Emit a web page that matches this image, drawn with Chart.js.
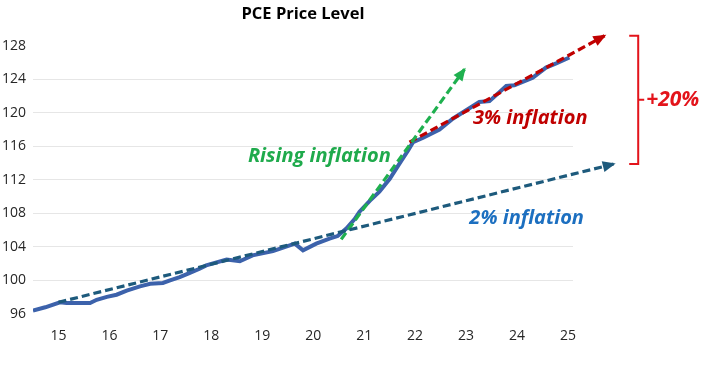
<!DOCTYPE html>
<html>
<head>
<meta charset="utf-8">
<script src="https://cdn.jsdelivr.net/npm/chart.js@4"></script>
<style>
  html, body { margin: 0; padding: 0; background: #fff; }
</style>
</head>
<body>
<canvas id="pceChart" width="714" height="366"></canvas>
<script>
// PCE price level (x in decimal years)
const pceYears = [2015.0, 2015.24, 2015.53, 2015.66, 2016.12, 2016.25, 2016.45, 2016.64, 2016.84,
  2017.1, 2017.3, 2017.55, 2017.69, 2017.88, 2018.08, 2018.27, 2018.4, 2018.8, 2019.06,
  2019.31, 2019.71, 2020.04, 2020.14, 2020.3, 2020.56, 2020.82, 2020.98, 2021.15, 2021.31,
  2021.41, 2021.61, 2021.8, 2022.0, 2022.2, 2022.36, 2022.46, 2022.65, 2022.98, 2023.24,
  2023.76, 2023.96, 2024.29, 2024.45, 2024.81, 2025.07, 2025.27, 2025.53];
const pceValues = [96.4, 96.8, 97.4, 97.3, 97.3, 97.7, 98.05, 98.3, 98.8,
  99.3, 99.6, 99.7, 100.0, 100.4, 100.9, 101.4, 101.8, 102.5, 102.3,
  103.0, 103.5, 104.2, 104.4, 103.6, 104.4, 105.0, 105.3, 106.2, 107.3,
  108.2, 109.5, 110.6, 112.1, 114.0, 115.5, 116.5, 117.0, 118.0, 119.3,
  121.3, 121.4, 123.2, 123.3, 124.2, 125.4, 125.9, 126.6];

// trend arrows
const trend2Years = [2015.5, 2026.4];
const trend2Values = [97.4, 113.9];
const trend3Years = [2022.39, 2026.22];
const trend3Values = [116.5, 129.2];
const risingYears = [2021.05, 2023.47];
const risingValues = [104.9, 125.2];

const tickYears = [2015.5, 2016.5, 2017.5, 2018.5, 2019.5, 2020.5, 2021.5, 2022.5, 2023.5, 2024.5, 2025.5];
const tickLabels = ["15", "16", "17", "18", "19", "20", "21", "22", "23", "24", "25"];

const FONT = "'Open Sans', 'Noto Sans', sans-serif";

function toPoints(xs, ys) {
  return xs.map((x, i) => ({ x: x, y: ys[i] }));
}

function trendSet(xs, ys, col) {
  return {
    data: toPoints(xs, ys),
    borderColor: col,
    backgroundColor: col,
    borderWidth: 3.2,
    borderDash: [8, 4],
    pointRadius: 0,
    clip: false,
    order: 1,
    arrow: true,
  };
}

// arrow heads at the end of the dashed trend lines
const arrowHeads = {
  id: "arrowHeads",
  afterDatasetsDraw(chart) {
    const ctx = chart.ctx;
    chart.data.datasets.forEach((ds, i) => {
      if (!ds.arrow) return;
      const pts = chart.getDatasetMeta(i).data;
      const a = pts[pts.length - 2];
      const b = pts[pts.length - 1];
      const ang = Math.atan2(b.y - a.y, b.x - a.x);
      const len = 11, half = 5.5;
      ctx.save();
      ctx.translate(b.x, b.y);
      ctx.rotate(ang);
      ctx.fillStyle = ds.borderColor;
      ctx.beginPath();
      ctx.moveTo(2, 0);
      ctx.lineTo(-len, -half);
      ctx.lineTo(-len, half);
      ctx.closePath();
      ctx.fill();
      ctx.restore();
    });
  },
};

// text notes and the +20% bracket
const notes = {
  id: "notes",
  afterDraw(chart) {
    const ctx = chart.ctx;
    const xs = chart.scales.x, ys = chart.scales.y;
    const px = (v) => xs.getPixelForValue(v);
    const py = (v) => ys.getPixelForValue(v);
    ctx.save();
    ctx.textBaseline = "middle";
    ctx.textAlign = "center";

    ctx.font = "italic bold 20px " + FONT;
    ctx.fillStyle = "#1faa4c";
    ctx.fillText("Rising inflation", px(2020.62), py(114.8));

    ctx.fillStyle = "#c00000";
    ctx.fillText("3% inflation", px(2024.76), py(119.4));

    ctx.fillStyle = "#1c6fc0";
    ctx.fillText("2% inflation", px(2024.69), py(107.4));

    // bracket between the two arrow tips
    const bx = px(2026.88);
    const top = py(trend3Values[1]);
    const bot = py(trend2Values[1]);
    const mid = (top + bot) / 2;
    ctx.strokeStyle = "#e3141b";
    ctx.lineWidth = 2;
    ctx.beginPath();
    ctx.moveTo(bx - 9, top);
    ctx.lineTo(bx, top);
    ctx.lineTo(bx, bot);
    ctx.lineTo(bx - 9, bot);
    ctx.moveTo(bx, mid);
    ctx.lineTo(bx + 6, mid);
    ctx.stroke();

    ctx.fillStyle = "#e3141b";
    ctx.textAlign = "left";
    ctx.font = "italic bold 21px " + FONT;
    ctx.fillText("+20%", bx + 8, mid);
    ctx.restore();
  },
};

new Chart(document.getElementById("pceChart"), {
  type: "line",
  data: {
    datasets: [
      trendSet(trend2Years, trend2Values, "#1d5a7c"),
      trendSet(risingYears, risingValues, "#1fb04f"),
      trendSet(trend3Years, trend3Values, "#c00000"),
      {
        data: toPoints(pceYears, pceValues),
        borderColor: "#3c62ab",
        borderWidth: 4,
        pointRadius: 0,
        tension: 0,
        order: 2,
      },
    ],
  },
  options: {
    responsive: false,
    animation: false,
    layout: { padding: { left: 0, right: 141, top: 0, bottom: 0 } },
    scales: {
      x: {
        type: "linear",
        min: 2015,
        max: 2025.6,
        afterBuildTicks: (s) => {
          s.ticks = tickYears.map((v) => ({ value: v }));
        },
        afterFit: (s) => {
          s.height = 52;
        },
        grid: { display: false, drawTicks: false },
        border: { display: false },
        ticks: {
          padding: 14,
          maxRotation: 0,
          autoSkip: false,
          color: "#262626",
          font: { family: FONT, size: 14 },
          callback: (v, i) => tickLabels[i],
        },
      },
      y: {
        min: 96,
        max: 128,
        afterFit: (s) => {
          s.width = 33;
        },
        grid: {
          drawTicks: false,
          color: (c) =>
            c.tick && (c.tick.value === 96 || c.tick.value === 128) ? "rgba(0,0,0,0)" : "#e6e6e6",
        },
        border: { display: false },
        ticks: {
          stepSize: 4,
          padding: 7,
          color: "#262626",
          font: { family: FONT, size: 14 },
        },
      },
    },
    plugins: {
      legend: { display: false },
      tooltip: { enabled: false },
      title: {
        display: true,
        text: "PCE Price Level",
        fullSize: false,
        color: "#000",
        font: { family: FONT, size: 16.5, weight: "bold" },
        padding: { top: 4, bottom: 22 },
      },
    },
  },
  plugins: [arrowHeads, notes],
});
</script>
</body>
</html>
